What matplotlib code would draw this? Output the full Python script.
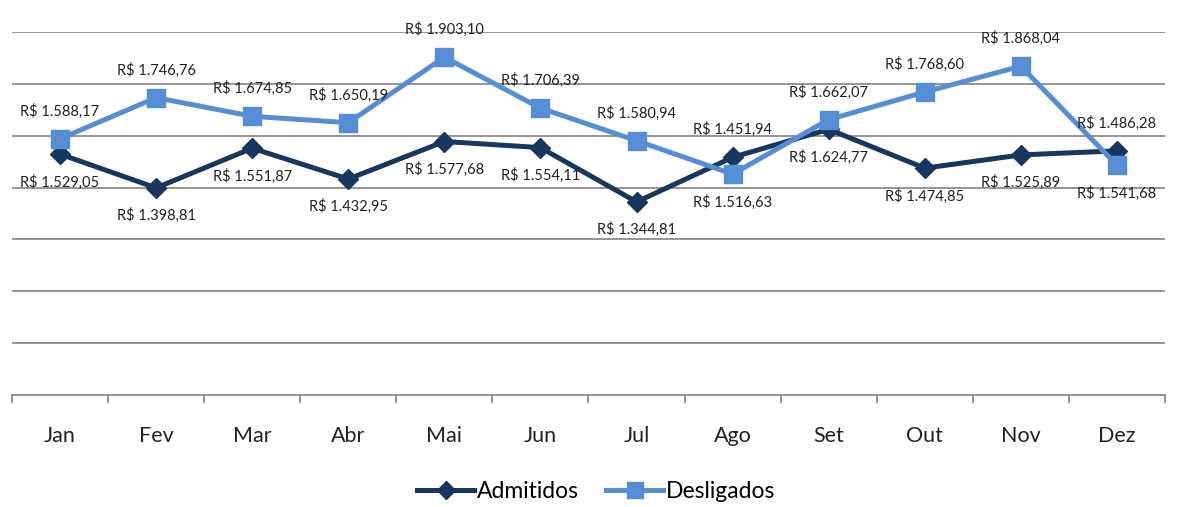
import matplotlib
matplotlib.use("Agg")
import matplotlib.pyplot as plt
import numpy as np

meses = ["Jan", "Fev", "Mar", "Abr", "Mai", "Jun", "Jul", "Ago", "Set", "Out", "Nov", "Dez"]
admitidos = [1529.05, 1398.81, 1551.87, 1432.95, 1577.68, 1554.11,
             1344.81, 1516.63, 1624.77, 1474.85, 1525.89, 1541.68]
desligados = [1588.17, 1746.76, 1674.85, 1650.19, 1903.10, 1706.39,
              1580.94, 1451.94, 1662.07, 1768.60, 1868.04, 1486.28]

cor_adm = "#17375E"
cor_des = "#558ED5"


def reais(v):
    # formato brasileiro: R$ 1.234,56
    s = f"{v:,.2f}".replace(",", "X").replace(".", ",").replace("X", ".")
    return "R$ " + s


plt.rcParams["font.family"] = ["Lato", "DejaVu Sans"]

fig = plt.figure(figsize=(11.8, 5.07), dpi=100)
ax = fig.add_axes([12 / 1180, 1 - 395 / 507, (1165 - 12) / 1180, (395 - 32) / 507])

x = np.arange(len(meses))
ax.plot(x, admitidos, color=cor_adm, lw=3.6, marker="D", ms=10, label="Admitidos", zorder=3)
ax.plot(x, desligados, color=cor_des, lw=3.6, marker="s", ms=12.5, label="Desligados", zorder=3)

# rótulos: Desligados acima do ponto mais alto do mês, Admitidos abaixo do mais baixo
for xi, a, d in zip(x, admitidos, desligados):
    ax.annotate(reais(a), (xi, min(a, d)), xytext=(0, -20), textcoords="offset points",
                ha="center", va="center", fontsize=10.5, color="#222222")
    ax.annotate(reais(d), (xi, max(a, d)), xytext=(0, 20), textcoords="offset points",
                ha="center", va="center", fontsize=10.5, color="#222222")

ax.set_xlim(-0.5, len(meses) - 0.5)
ax.set_ylim(600, 2000)

# grade horizontal
for g in range(800, 2001, 200):
    ax.axhline(g, color="#8C8C8C", lw=1.3, zorder=1)

for s in ["left", "right", "top"]:
    ax.spines[s].set_visible(False)
ax.spines["bottom"].set_color("#8C8C8C")
ax.spines["bottom"].set_linewidth(1.3)

ax.set_yticks([])
ax.set_xticks(x)
ax.set_xticklabels(meses, fontsize=15.5, color="#222222")
ax.tick_params(axis="x", which="major", length=0, pad=22)
ax.set_xticks(np.arange(-0.5, len(meses), 1), minor=True)
ax.tick_params(axis="x", which="minor", length=6, width=1.3, color="#8C8C8C")

fig.legend(loc="center", bbox_to_anchor=(0.505, 1 - 492 / 507), ncol=2, frameon=False,
           fontsize=16.5, handlelength=2.5, handletextpad=0.1, columnspacing=1.2,
           markerscale=0.9)

fig.savefig("out.png", dpi=100)
